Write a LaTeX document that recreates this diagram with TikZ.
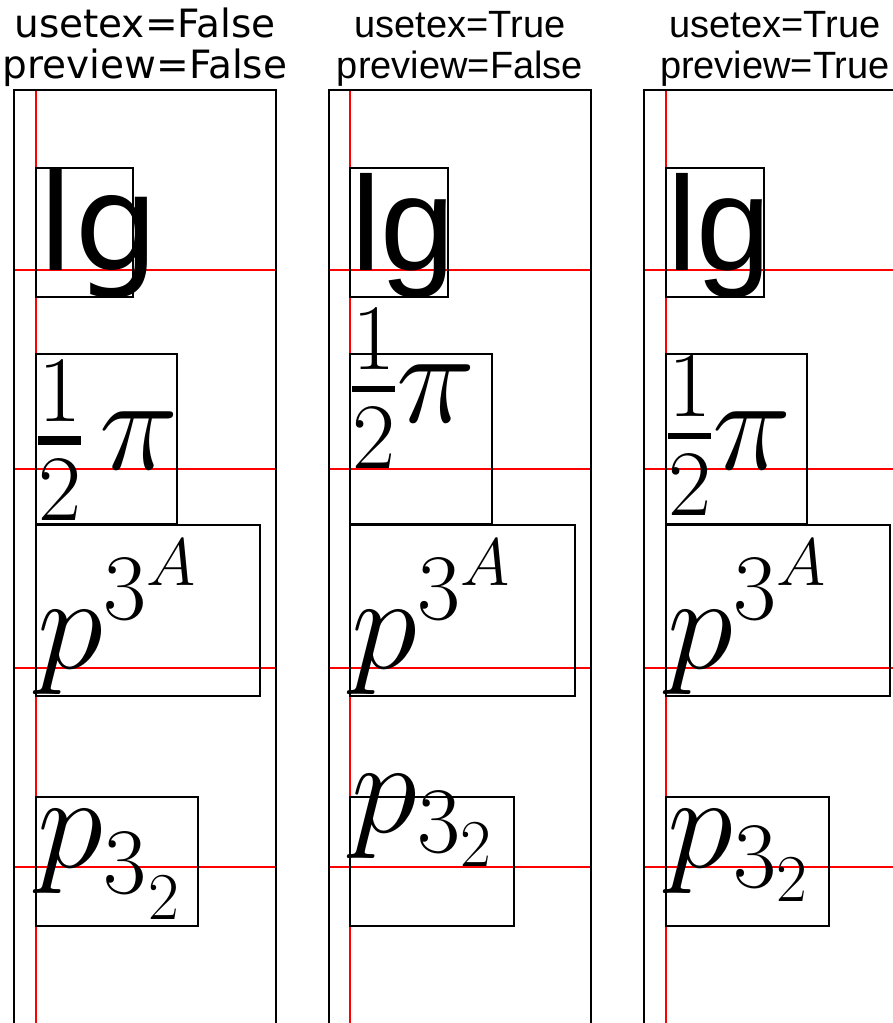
\RequirePackage{fix-cm}
\documentclass[tikz,border=0pt]{standalone}
\usepackage{fontspec}
\newfontfamily\dejavu{DejaVu Sans}
\newfontfamily\helv{Liberation Sans}
\usetikzlibrary{positioning}
\definecolor{cred}{HTML}{FF0000}
\tikzset{
  every picture/.style={x=1pt, y=-1pt, line width=2.4pt},
  frame/.style={draw=black, line width=2.4pt},
  guide/.style={draw=cred, line width=2.2pt},
  bbox/.style={draw=black, line width=2.2pt},
  title/.style={anchor=base, inner sep=0pt, font=\fontsize{38}{46}\selectfont#1},
  sample/.style={anchor=base west, inner sep=0pt, font=\fontsize{134}{160}\selectfont#1},
  sample/.default=\relax,
}

\begin{document}
\begin{tikzpicture}
  \useasboundingbox (0,0) rectangle (893,1023);
  % frames and guide lines
  \foreach \l/\r/\g in {14/276/36, 329/591/350, 644/930/666} {
    \draw[guide] (\g,90) -- (\g,1040);
    \foreach \y in {270,469,668,867}
      \draw[guide] (\l,\y) -- (\r,\y);
    \draw[frame] (\l,1040) -- (\l,90) -- (\r,90) -- (\r,1040);
  }
  % titles
  \node[title=\dejavu\fontsize{39}{46}\selectfont] (t1a) at (145,37) {usetex=False};
  \node[title=\dejavu\fontsize{39}{46}\selectfont] (t1b) at (145,78) {preview=False};
  \node[title=\helv] (t2a) at (460,37) {usetex=True};
  \node[title=\helv] (t2b) at (460,78) {preview=False};
  \node[title=\helv] (t3a) at (775,37) {usetex=True};
  \node[title=\helv] (t3b) at (775,78) {preview=True};
  % usetex=False, preview=False
  \draw[bbox] (36,168) rectangle (133,297);
  \draw[bbox] (36,354) rectangle (177,524);
  \draw[bbox] (36,525) rectangle (260,696);
  \draw[bbox] (36,797) rectangle (198,926);
  \node[sample=\dejavu] (lg1) at (36,270) {lg};
  \node[sample] (frac1) at (36,469)
    {$\lower5pt\hbox{$\textstyle{1\above9pt 2}$}\kern17pt\pi$};
  \node[sample] (sup1) at (36,668) {$p^{3^A}$};
  \node[sample] (sub1) at (36,867)
    {$p\lower26pt\hbox{$\scriptstyle 3$}\kern2pt\lower52pt\hbox{$\scriptscriptstyle 2$}$};
  % usetex=True, preview=False
  \draw[bbox] (350,168) rectangle (448,297);
  \draw[bbox] (350,354) rectangle (492,524);
  \draw[bbox] (350,525) rectangle (575,696);
  \draw[bbox] (350,797) rectangle (514,926);
  \node[sample=\helv] (lg2) at (350,270) {lg};
  \node[sample] (frac2) at (350,422) {${1\above6pt 2}\pi$};
  \node[sample] (sup2) at (350,668) {$p^{3^A}$};
  \node[sample] (sub2) at (350,832) {$p_{3_2}$};
  % usetex=True, preview=True
  \draw[bbox] (666,168) rectangle (764,297);
  \draw[bbox] (666,354) rectangle (807,524);
  \draw[bbox] (666,525) rectangle (890,696);
  \draw[bbox] (666,797) rectangle (829,926);
  \node[sample=\helv] (lg3) at (666,270) {lg};
  \node[sample] (frac3) at (666,469) {${1\above6pt 2}\pi$};
  \node[sample] (sup3) at (666,668) {$p^{3^A}$};
  \node[sample] (sub3) at (666,867) {$p_{3_2}$};
\end{tikzpicture}
\end{document}
